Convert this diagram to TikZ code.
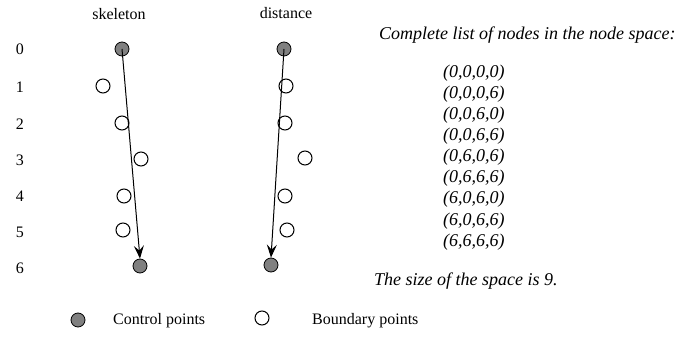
\documentclass[tikz,border=0pt]{standalone}
\usepackage{fontspec}
\setmainfont{Liberation Serif}
\usetikzlibrary{arrows.meta}
\begin{document}
\begin{tikzpicture}[x=1pt,y=-1pt,
  ctrl/.style={circle,draw=black,line width=0.8pt,fill=black!50,minimum size=14pt,inner sep=0pt},
  bnd/.style={circle,draw=black,line width=1pt,fill=white,minimum size=14pt,inner sep=0pt},
  lbl/.style={font=\fontsize{16}{19}\selectfont,inner sep=0pt},
  itl/.style={font=\fontsize{18}{21}\selectfont\itshape,inner sep=0pt},
  arr/.style={-{Stealth[length=13pt,width=10pt,inset=5pt]},line width=1pt}]
\useasboundingbox (0,0) rectangle (685,339);
% row labels
\foreach \r/\yy in {0/49,1/87,2/124,3/160,4/196,5/232,6/268}
  \node[lbl] (r\r) at (20,\yy) {\r};
\node[lbl] (hsk) at (119,14) {skeleton};
\node[lbl] (hds) at (286,13) {distance};
% skeleton
\node[ctrl] (s0) at (122,49) {};
\node[bnd] (s1) at (103,86) {};
\node[bnd] (s2) at (122,123) {};
\node[bnd] (s3) at (141,159) {};
\node[bnd] (s4) at (124,196) {};
\node[bnd] (s5) at (123,230) {};
\node[ctrl] (s6) at (140,266) {};
\draw[arr] (s0.center) -- (s6.north);
% distance
\node[ctrl] (d0) at (284,49) {};
\node[bnd] (d1) at (286,86) {};
\node[bnd] (d2) at (285,123) {};
\node[bnd] (d3) at (305,158) {};
\node[bnd] (d4) at (285,196) {};
\node[bnd] (d5) at (287,230) {};
\node[ctrl] (d6) at (271,265) {};
\draw[arr] (d0.center) -- (d6.north);
% legend
\node[ctrl] (lc) at (78,320) {};
\node[lbl,anchor=west] (lct) at (113,321) {Control points};
\node[bnd] (lb) at (262,318) {};
\node[lbl,anchor=west] (lbt) at (312,321) {Boundary points};
% right text
\node[itl,anchor=west] (title) at (379,35) {Complete list of nodes in the node space:};
\foreach \t [count=\i] in {(0,0,0,0),(0,0,0,6),(0,0,6,0),(0,0,6,6),(0,6,0,6),(0,6,6,6),(6,0,6,0),(6,0,6,6),(6,6,6,6)}
  \node[itl,anchor=west] (t\i) at (443,{73+21.1*(\i-1)}) {\t};
\node[itl,anchor=west] (size) at (374,281) {The size of the space is 9.};
\end{tikzpicture}
\end{document}
